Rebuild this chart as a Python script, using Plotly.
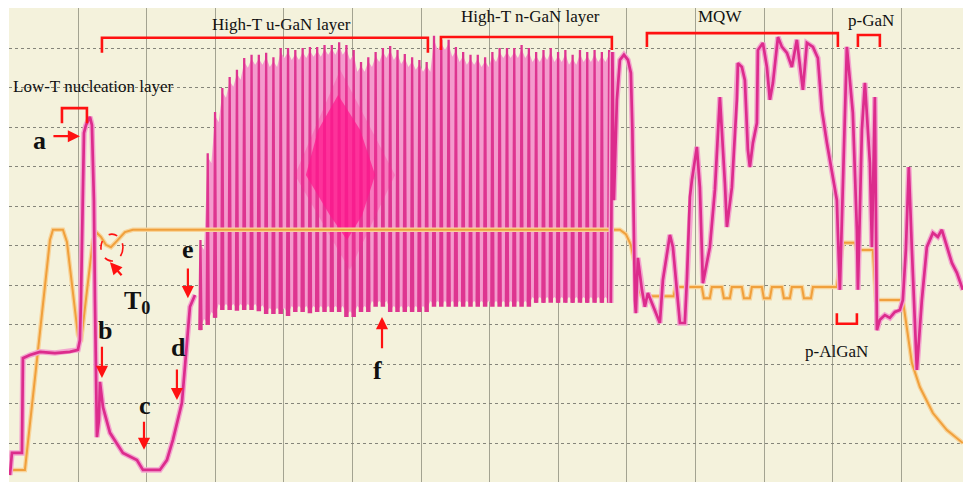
import plotly.graph_objects as go

# ---- In-situ reflectance / temperature trace of an LED epi growth run ----
# time axis in arbitrary units (10 per major division), signals in a.u.

# susceptor temperature (orange)
temp_t = [0, 2.24, 3.99, 5.89, 6.33, 7.78, 8.37, 9.24, 9.97, 10.41, 11.14, 12.16, 12.74,
          13.32, 14.05, 14.78, 15.66, 16.82, 17.99, 88.98, 89.85, 90.58, 91.17, 91.75,
          92.19, 96.8, 97.1, 100.64,
          100.93, 101.22, 102.09, 102.38, 103.84, 104.14, 105.01, 105.30,
          106.76, 107.06, 107.93, 108.22, 109.68, 109.97, 110.85, 111.14,
          112.60, 112.89, 113.76, 114.05, 115.52, 115.81, 116.83, 117.12,
          120.6, 121.49, 123.24, 123.53, 125.86, 126.30, 130.23, 131.55,
          132.71, 134.61, 136.65, 138.98]
temp_v = [3.3, 3.3, 31.1, 61.5, 64.1, 64.1, 61.0, 48.9, 37.5, 35.7, 46.3, 61.5, 63.3,
          62.3, 60.3, 59.7, 61.3, 63.5, 64.1, 64.1, 63.0, 60.3, 55.2, 48.9,
          47.3, 47.3, 49.6, 49.6,
          49.6, 46.8, 46.8, 49.6, 49.6, 46.8, 46.8, 49.6,
          49.6, 46.8, 46.8, 49.6, 49.6, 46.8, 46.8, 49.6,
          49.6, 46.8, 46.8, 49.6, 49.6, 46.8, 46.8, 49.6,
          49.6, 60.8, 60.8, 59.0, 59.0, 46.3, 46.3, 30.4,
          24.3, 17.7, 13.4, 10.1]

# reflectance before the high-T oscillations (nucleation, roughening, recovery)
early_t = [0.06, 0.35, 1.81, 1.95, 2.97, 4.43, 6.62, 8.80, 9.97, 10.26, 10.41, 10.70,
           10.85, 11.14, 11.72, 12.01, 12.30, 12.45, 12.59, 12.74, 13.03, 13.18, 13.62,
           14.64, 16.53, 18.57, 19.45, 21.92, 22.94, 23.82, 25.13, 25.57, 26.30, 27.03]
early_v = [2.0, 7.6, 7.6, 31.6, 32.4, 33.2, 32.9, 33.2, 33.7, 36.2, 46.3, 76.7,
           88.6, 90.6, 92.7, 90.6, 71.6, 46.3, 21.0, 11.6, 15.9, 25.6, 19.2,
           12.7, 7.6, 5.8, 3.3, 3.3, 5.8, 10.9, 20.3, 29.4, 44.6, 47.6]

# Fabry-Perot fringes during u-GaN / n-GaN growth: maxima and minima
fringe_t = [27.83, 28.89, 29.96, 31.02, 32.09, 33.15, 34.21, 35.28, 36.34, 37.41,
            38.47, 39.53, 40.60, 41.66, 42.73, 43.79, 44.85, 45.92, 46.98, 48.05,
            49.11, 50.17, 51.24, 52.30, 53.37, 54.43, 55.49, 56.56, 57.62, 58.69,
            59.75, 60.81, 61.88, 62.94, 64.01, 65.07, 66.13, 67.20, 68.26, 69.33,
            70.39, 71.45, 72.52, 73.58, 74.65, 75.71, 76.77, 77.84, 78.90, 79.97,
            81.03, 82.09, 83.16, 84.22, 85.29, 86.35, 87.41]
fringe_max = [61.5, 83.5, 93.9, 100.0, 102.8, 104.6, 107.6, 108.4, 108.4, 108.9,
              107.8, 110.1, 110.1, 109.6, 110.1, 110.4, 110.4, 110.9, 110.9, 111.6,
              110.9, 109.6, 106.6, 107.8, 109.1, 110.1, 110.6, 109.6, 108.6, 107.8,
              107.1, 106.6, 113.2, 112.2, 112.2, 110.4, 109.1, 108.4, 108.4, 107.8,
              109.1, 110.1, 110.1, 110.1, 110.9, 110.1, 109.1, 109.6, 110.1, 109.1,
              109.6, 108.4, 109.6, 109.1, 109.6, 109.1, 109.6]
fringe_min = [38.7, 40.0, 41.8, 43.8, 43.8, 43.6, 43.8, 43.8, 43.5, 42.8,
              42.8, 42.8, 42.3, 43.3, 43.3, 43.0, 43.3, 43.3, 43.3, 43.3,
              42.0, 42.0, 43.3, 43.3, 44.6, 44.6, 43.3, 43.3, 43.3, 43.3,
              43.3, 43.3, 44.6, 44.6, 44.6, 44.6, 44.6, 44.6, 44.6, 44.6,
              44.6, 44.6, 44.6, 44.6, 44.6, 44.6, 45.6, 45.6, 45.6, 45.6,
              45.6, 45.6, 45.6, 45.6, 45.6, 45.6, 45.6]

# beat zone of the fringes (dense overlap)
beat_outer_t = [48.2, 56.2, 49.6, 41.6]
beat_outer_v = [104.6, 78.0, 53.9, 78.0]
beat_core_t = [47.9, 51.1, 53.3, 51.4, 49.2, 46.7, 43.2, 45.0]
beat_core_v = [98.2, 89.4, 78.0, 67.8, 61.5, 67.8, 78.0, 89.4]

# reflectance after the n-GaN layer: MQW, p-AlGaN, p-GaN, cool-down
late_t = [87.66, 87.89, 88.11, 88.54, 88.98, 89.57, 90.15, 90.58, 90.80, 90.95, 91.17,
          91.31, 91.6, 92.19, 92.62, 93.06, 93.64, 94.37, 94.81, 95.25, 96.27, 96.71,
          97.43, 97.73, 98.45, 98.75, 99.18, 99.48, 100.2, 100.64, 101.08, 102.1,
          102.83, 103.56, 104.29, 104.58, 105.31, 106.03, 106.18, 106.76, 107.2,
          107.64, 107.93, 108.37, 108.95, 109.1, 109.83, 110.41, 110.85, 111.29,
          112.02, 112.6, 113.33, 114.05, 114.78, 115.22, 115.66, 116.24, 117.12,
          117.84, 118.43, 119.16, 120.03, 120.61, 120.76, 121.05, 122.07, 122.94,
          123.53, 123.68, 124.26, 124.7, 125.43, 125.72, 126.15, 126.45, 126.88,
          127.61, 128.34, 129.07, 129.8, 130.23, 130.67, 131.1, 131.55, 132.27,
          133.0, 133.73, 134.61, 135.33, 135.92, 136.65, 137.38, 138.11, 138.98]
late_v = [45.6, 109.1, 71.6, 97.0, 107.1, 108.4, 107.1, 103.8, 89.4, 71.6, 46.3,
          43.0, 57.0, 48.9, 44.6, 48.1, 45.6, 42.0, 40.5, 51.4, 62.8, 59.7,
          46.3, 40.5, 40.5, 51.4, 72.4, 76.7, 85.1, 74.9, 50.6, 59.7,
          74.2, 97.7, 75.9, 64.8, 74.9, 97.0, 106.3, 105.3, 102.0,
          84.3, 80.0, 86.1, 91.1, 109.6, 111.4, 105.3, 97.0, 101.3,
          112.9, 110.4, 108.9, 105.3, 112.2, 105.3, 99.5, 111.4, 110.4,
          107.6, 94.4, 86.1, 76.7, 71.6, 63.3, 48.9, 110.4, 93.7,
          64.1, 48.9, 89.4, 101.3, 81.0, 59.7, 97.7, 38.7, 41.3,
          42.5, 41.8, 43.3, 43.8, 46.3, 59.0, 80.0, 59.0, 28.6,
          46.3, 59.7, 63.3, 62.3, 64.1, 59.7, 55.7, 53.2, 48.9]

# growth-stage labels and bracket spans (start, end, base, tip)
stage_names = ["Low-T nucleation layer", "High-T u-GaN layer", "High-T n-GaN layer",
               "MQW", "p-GaN", "p-AlGaN"]
stage_label_t = [12.3, 39.7, 75.9, 103.6, 125.6, 120.5]
stage_label_v = [100.3, 116.2, 118.0, 118.0, 117.0, 33.4]
bracket_t0 = [7.64, 13.47, 62.89, 92.92, 123.68, 120.61]
bracket_t1 = [11.28, 60.99, 87.81, 120.76, 126.88, 123.53]
bracket_base = [91.1, 108.9, 109.6, 110.4, 110.4, 43.0]
bracket_tip = [94.9, 112.7, 112.9, 113.9, 113.4, 40.3]

# marked points: letter, letter position, arrow tail, arrow head
mark_names = ["a", "b", "c", "d", "e", "f"]
mark_t = [4.4, 13.9, 19.7, 24.6, 26.0, 53.6]
mark_v = [86.6, 38.7, 19.7, 34.2, 59.0, 28.4]
arrow_tail_t = [6.18, 13.47, 19.6, 24.4, 26.0, 54.3]
arrow_tail_v = [87.8, 34.9, 15.9, 29.1, 54.7, 33.7]
arrow_head_t = [10.26, 13.47, 19.6, 24.4, 26.0, 54.3]
arrow_head_v = [87.8, 26.6, 8.4, 21.0, 46.8, 42.0]

# T0 marker
t0_label = (18.6, 45.8)
t0_arrow_tail = (16.53, 52.2)
t0_arrow_head = (14.64, 55.9)
t0_circle_t = (13.32, 16.53)
t0_circle_v = (56.2, 63.0)

MAGENTA = "#dc2c8c"
MAGENTA_HALO = "#f3a6cf"
ORANGE = "#f0a03c"
ORANGE_HALO = "#f8d49a"
RED = "#ff1111"
SERIF = "Liberation Serif, Times New Roman, serif"

fig = go.Figure()

# fringe envelope fill
n = len(fringe_t)
up_x, up_y, lo_x, lo_y = [], [], [], []
for k in range(n):
    up_x.append(fringe_t[k])
    up_y.append(fringe_max[k] - 1.0)
    lo_x.append(fringe_t[k])
    lo_y.append(fringe_min[k] + 0.5)
    if k < n - 1:
        mid = (fringe_t[k] + fringe_t[k + 1]) / 2
        up_x.append(mid)
        up_y.append(min(fringe_max[k], fringe_max[k + 1]) - 2.5)
        lo_x.append(mid)
        lo_y.append(max(fringe_min[k], fringe_min[k + 1]) + 1.5)
fig.add_trace(go.Scatter(x=up_x + lo_x[::-1], y=up_y + lo_y[::-1], mode="lines",
                         fill="toself", fillcolor="#f49acd", line=dict(width=0),
                         hoverinfo="skip"))

# individual fringes
nx, ny = [], []
for t, hi, lo in zip(fringe_t, fringe_max, fringe_min):
    nx += [t - 0.16, t, t + 0.16, None]
    ny += [lo, hi, lo, None]
fig.add_trace(go.Scatter(x=nx, y=ny, mode="lines",
                         line=dict(color="#de3590", width=2.3), hoverinfo="skip"))

# beat zone
fig.add_trace(go.Scatter(x=beat_outer_t + beat_outer_t[:1], y=beat_outer_v + beat_outer_v[:1],
                         mode="lines", fill="toself", fillcolor="rgba(255,40,150,0.28)",
                         line=dict(width=0), hoverinfo="skip"))
fig.add_trace(go.Scatter(x=beat_core_t + beat_core_t[:1], y=beat_core_v + beat_core_v[:1],
                         mode="lines", fill="toself", fillcolor="rgba(255,22,140,0.72)",
                         line=dict(width=0), hoverinfo="skip"))

# temperature
fig.add_trace(go.Scatter(x=temp_t, y=temp_v, mode="lines",
                         line=dict(color=ORANGE_HALO, width=4.5), hoverinfo="skip"))
fig.add_trace(go.Scatter(x=temp_t, y=temp_v, mode="lines",
                         line=dict(color=ORANGE, width=2), name="Temperature"))

# reflectance outside the fringe region
for tt, vv in ((early_t, early_v), (late_t, late_v)):
    fig.add_trace(go.Scatter(x=tt, y=vv, mode="lines",
                             line=dict(color=MAGENTA_HALO, width=5.5), hoverinfo="skip"))
    fig.add_trace(go.Scatter(x=tt, y=vv, mode="lines",
                             line=dict(color=MAGENTA, width=2.7), name="Reflectance"))

shapes = []
for a, b, base, tip in zip(bracket_t0, bracket_t1, bracket_base, bracket_tip):
    shapes.append(dict(type="path", xref="x", yref="y",
                       path=f"M {a},{base} L {a},{tip} L {b},{tip} L {b},{base}",
                       line=dict(color=RED, width=2.6)))
shapes.append(dict(type="circle", xref="x", yref="y",
                   x0=t0_circle_t[0], x1=t0_circle_t[1], y0=t0_circle_v[0], y1=t0_circle_v[1],
                   line=dict(color=RED, width=1.6, dash="dash")))

ann = []
for name, x, y in zip(stage_names, stage_label_t, stage_label_v):
    ann.append(dict(x=x, y=y, text=name, showarrow=False, xanchor="center", yanchor="middle",
                    font=dict(family=SERIF, size=17, color="#111111")))
for name, x, y in zip(mark_names, mark_t, mark_v):
    ann.append(dict(x=x, y=y, text=f"<b>{name}</b>", showarrow=False,
                    xanchor="center", yanchor="middle",
                    font=dict(family=SERIF, size=26, color="#111111")))
ann.append(dict(x=t0_label[0], y=t0_label[1], text="<b>T<sub>0</sub></b>", showarrow=False,
                xanchor="center", yanchor="middle",
                font=dict(family=SERIF, size=26, color="#111111")))
for x0, y0, x1, y1 in list(zip(arrow_tail_t, arrow_tail_v, arrow_head_t, arrow_head_v)) + \
        [(t0_arrow_tail[0], t0_arrow_tail[1], t0_arrow_head[0], t0_arrow_head[1])]:
    ann.append(dict(x=x1, y=y1, ax=x0, ay=y0, xref="x", yref="y", axref="x", ayref="y",
                    text="", showarrow=True, arrowhead=2, arrowsize=1.1, arrowwidth=2.2,
                    arrowcolor=RED))

fig.update_layout(
    width=963, height=482,
    margin=dict(l=9, r=0, t=8, b=0),
    paper_bgcolor="white", plot_bgcolor="#f4f2dc",
    showlegend=False,
    shapes=shapes, annotations=ann,
    xaxis=dict(range=[-0.08, 139.0], dtick=10, tick0=0, showticklabels=False,
               showgrid=True, gridcolor="#a3a391", gridwidth=1.2, zeroline=False,
               showline=False, ticks=""),
    yaxis=dict(range=[0.25, 120.25], dtick=10, tick0=0, showticklabels=False,
               showgrid=True, gridcolor="#85857a", gridwidth=1.2, griddash="dot",
               zeroline=False, showline=False, ticks=""),
)

fig.write_html("out.html")
